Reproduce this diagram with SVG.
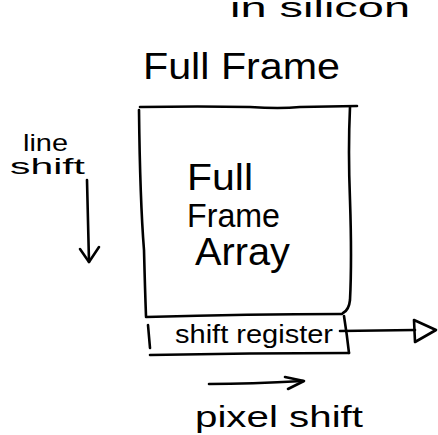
<svg xmlns="http://www.w3.org/2000/svg" width="438" height="435" viewBox="0 0 438 435">
  <style>
    .ink { fill: none; stroke: #000; stroke-width: 2.6; stroke-linecap: round; stroke-linejoin: round; }
    .hand { font-family: "Liberation Sans", "DejaVu Sans", sans-serif; fill: #000; }
  </style>
  <rect width="438" height="435" fill="#fff"/>

  <!-- caption at the top edge -->
  <g id="caption">
    <text class="hand" x="230" y="17" font-size="27" textLength="180" lengthAdjust="spacingAndGlyphs">in silicon</text>
  </g>

  <!-- title -->
  <g id="title">
    <text class="hand" x="143" y="79" font-size="36" textLength="197" lengthAdjust="spacingAndGlyphs">Full Frame</text>
  </g>

  <!-- image area -->
  <g id="array">
    <path class="ink" d="M140 107 Q200 106 250 107 Q280 109 300 107 L357 106"/>
    <path class="ink" d="M139 110 Q140 200 144 250 Q145 290 146 316"/>
    <path class="ink" d="M350 107 Q348 150 350 200 Q352 260 350 300 Q349 310 343 313"/>
    <text class="hand" x="187" y="190" font-size="36" textLength="66" lengthAdjust="spacingAndGlyphs">Full</text>
    <text class="hand" x="187" y="227" font-size="33" textLength="93" lengthAdjust="spacingAndGlyphs">Frame</text>
    <text class="hand" x="195" y="265" font-size="38" textLength="95" lengthAdjust="spacingAndGlyphs">Array</text>
  </g>

  <!-- readout register -->
  <g id="register">
    <path class="ink" d="M146 317 Q250 314 342 314"/>
    <path class="ink" d="M148 325 L150 348"/>
    <path class="ink" d="M150 355 Q250 353 349 353"/>
    <path class="ink" d="M344 316 Q347 335 349 353"/>
    <text class="hand" x="175" y="343" font-size="26" textLength="158" lengthAdjust="spacingAndGlyphs">shift register</text>
  </g>

  <!-- line shift label -->
  <g id="line-shift">
    <text class="hand" x="23" y="151" font-size="24" textLength="45" lengthAdjust="spacingAndGlyphs">line</text>
    <text class="hand" x="10" y="174" font-size="22" textLength="75" lengthAdjust="spacingAndGlyphs">shift</text>
  </g>

  <!-- pixel shift label -->
  <g id="pixel-shift">
    <text class="hand" x="195" y="427" font-size="30" textLength="168" lengthAdjust="spacingAndGlyphs">pixel shift</text>
  </g>

  <!-- connectors -->
  <g id="connectors">
    <!-- line shift: downward arrow -->
    <path class="ink" d="M87 180 Q88 220 89 262"/>
    <path class="ink" d="M80 249 L89 262 L99 247"/>
    <!-- output arrow out of the register -->
    <path class="ink" d="M340 331 L415 330"/>
    <path class="ink" d="M414 320 L436 330 L415 342 Z"/>
    <!-- pixel shift arrow -->
    <path class="ink" d="M209 384 Q250 384 303 381"/>
    <path class="ink" d="M285 377 L304 381 L288 389"/>
  </g>
</svg>
